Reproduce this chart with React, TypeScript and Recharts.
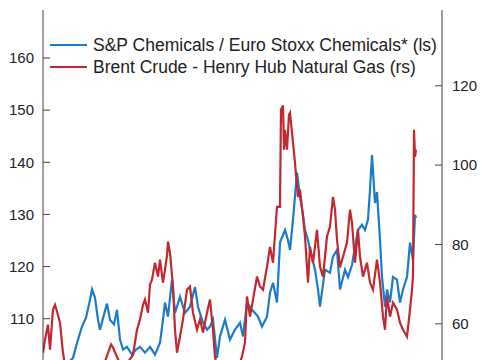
import { Line, LineChart, XAxis, YAxis } from "recharts";

// time index (weeks from start of the window) and values
const chemT = [
    0, 7, 17, 25, 30, 35, 39, 43, 47, 49, 52, 55, 57, 61, 64, 67, 71, 74, 77, 80,
    84, 89, 93, 97, 102, 107, 112, 117, 120, 122, 125, 129, 132, 137, 142, 147, 152, 155, 160, 164,
    167, 170, 174, 177, 182, 187, 192, 197, 200, 204, 209, 215, 219, 224, 227, 230, 234, 237, 242, 245,
    247, 250, 254, 257, 260, 262, 265, 267, 272, 275, 277, 282, 287, 290, 294, 297, 302, 305, 309, 312,
    315, 319, 322, 325, 327, 329, 332, 334, 337, 339, 342, 344, 347, 350, 354, 357, 360, 364, 367, 370,
    372, 373,
];
const chemRatio = [
    99, 99.5, 100.5, 101.5, 102.5, 106, 108.5, 110.2, 113.6, 115.6, 114, 109.8, 107.9, 110.8, 112.9, 109.8, 108.9, 111.7, 106, 104.1,
    104.6, 103.1, 104.1, 104.6, 103.5, 104.6, 103.1, 105.4, 109.8, 113.1, 110.4, 117.5, 111.1, 114.2, 111.1, 112.3, 116.1, 112.3, 109.2, 107.9,
    108.5, 109.8, 102.5, 106.6, 109.8, 106, 107.9, 109.2, 106.6, 113.1, 111.7, 110.4, 108.5, 110.4, 115, 116.9, 113.1, 124.6, 127, 125.1,
    123.2, 129, 138, 133.4, 129.9, 127, 125.1, 123.2, 119.4, 115.6, 112.3, 119.4, 118.8, 121.9, 123.2, 115.6, 119.4, 118, 120.3, 123.8,
    127, 128, 127, 129, 134.7, 141.4, 132.2, 134.3, 125.1, 118, 112.3, 115.6, 113.1, 118, 117.5, 113.1, 115.6, 118, 124.6, 121.3,
    129.9, 129.3,
];

const spreadT = [
    0, 2, 5, 7, 10, 12, 14, 17, 20, 23, 32, 42, 52, 60, 65, 68, 70, 73, 77, 84,
    90, 94, 97, 100, 102, 105, 107, 109, 112, 115, 117, 120, 122, 124, 125, 127, 130, 132, 134, 137,
    140, 144, 147, 150, 154, 157, 160, 164, 167, 170, 172, 175, 182, 189, 195, 199, 202, 204, 207, 210,
    214, 217, 220, 224, 227, 230, 234, 237, 238, 240, 241, 242, 244, 246, 247, 249, 252, 255, 257, 260,
    262, 265, 267, 270, 274, 277, 280, 284, 287, 290, 292, 294, 297, 300, 304, 307, 309, 312, 315, 317,
    320, 324, 327, 330, 334, 337, 340, 342, 344, 347, 350, 354, 357, 360, 364, 367, 369, 370, 371, 372,
    373,
];
const brentHh = [
    52.7, 56, 59.8, 53.5, 63.6, 64.8, 63.1, 60.3, 52.7, 48, 46, 45, 46, 49, 52.7, 54.8, 54, 52.2, 50, 50,
    52.2, 58.5, 61.1, 64.8, 66.1, 62.8, 69.9, 71.1, 75.4, 71.9, 76.2, 70.4, 73.7, 77.2, 80.7, 77.9, 69.4, 58.5, 52.7, 56.8,
    61.1, 68.6, 69.4, 62.8, 58.5, 61.1, 57.8, 62.8, 66.1, 58.5, 51.7, 48, 47, 48, 49, 51.7, 55.3, 66.9, 61.8, 66.1,
    71.9, 69.4, 68.6, 74.4, 79.4, 75.4, 89.5, 89.5, 114, 115, 103.9, 108.9, 103.9, 112.7, 113.2, 108.2, 100.6, 92, 93.8, 87,
    82, 70.4, 79.4, 75.4, 83.7, 74.4, 71.9, 82, 84.5, 92, 88.8, 81.2, 74.2, 76.9, 80.5, 88.8, 85.5, 75.4, 83.7, 76.9,
    71.9, 75.4, 70.4, 68.6, 76.2, 70.4, 61.8, 58.5, 66.9, 61.8, 65.3, 63.6, 60.3, 58.5, 56.8, 63.6, 68.6, 71.9, 108.9, 102.1,
    103.9,
];

const leftTicks = [110, 120, 130, 140, 150, 160];
const rightTicks = [60, 80, 100, 120];

const BLUE = "#1c7cc9";
const RED = "#c1282f";
const AXIS = "#404040";
const FONT = "Arial, 'Liberation Sans', sans-serif";

const chemData = chemT.map((t, i) => ({ t, v: chemRatio[i] }));
const spreadData = spreadT.map((t, i) => ({ t, v: brentHh[i] }));

const legendItems = [
    { label: "S&P Chemicals / Euro Stoxx Chemicals* (ls)", color: BLUE },
    { label: "Brent Crude - Henry Hub Natural Gas (rs)", color: RED },
];

function ChartLegend() {
    return (
        <div
            style={{
                position: "absolute",
                top: 34,
                left: 50,
                fontFamily: FONT,
                fontSize: 17.5,
                color: "#222",
            }}
        >
            {legendItems.map((it) => (
                <div key={it.label} style={{ display: "flex", alignItems: "center", height: 22 }}>
                    <span style={{ display: "inline-block", width: 37, height: 2, background: it.color, marginRight: 6 }} />
                    <span style={{ whiteSpace: "nowrap" }}>{it.label}</span>
                </div>
            ))}
        </div>
    );
}

export default function App() {
    const tickStyle = { fontSize: 15, fill: "#222", fontFamily: FONT };
    return (
        <div style={{ position: "absolute", left: 0, top: 0, width: 485, height: 360, overflow: "hidden", background: "#fff" }}>
            <LineChart width={485} height={430} margin={{ top: 10, right: 0, bottom: 7, left: 0 }}>
                <XAxis
                    dataKey="t"
                    type="number"
                    orientation="top"
                    domain={[0, 399]}
                    allowDataOverflow
                    height={0}
                    tick={false}
                    tickLine={false}
                    stroke={AXIS}
                />
                <YAxis
                    yAxisId="left"
                    orientation="left"
                    width={43}
                    domain={[90, 169.2]}
                    allowDataOverflow
                    ticks={leftTicks}
                    tickSize={-7}
                    tickMargin={16}
                    stroke={AXIS}
                    tick={tickStyle}
                />
                <YAxis
                    yAxisId="right"
                    orientation="right"
                    width={43}
                    domain={[35, 139.1]}
                    allowDataOverflow
                    ticks={rightTicks}
                    tickSize={-7}
                    tickMargin={17}
                    stroke={AXIS}
                    tick={tickStyle}
                />
                <Line
                    yAxisId="left"
                    data={chemData}
                    dataKey="v"
                    stroke={BLUE}
                    strokeWidth={2.2}
                    dot={false}
                    isAnimationActive={false}
                />
                <Line
                    yAxisId="right"
                    data={spreadData}
                    dataKey="v"
                    stroke={RED}
                    strokeWidth={2.2}
                    dot={false}
                    isAnimationActive={false}
                />
            </LineChart>
            <ChartLegend />
        </div>
    );
}
